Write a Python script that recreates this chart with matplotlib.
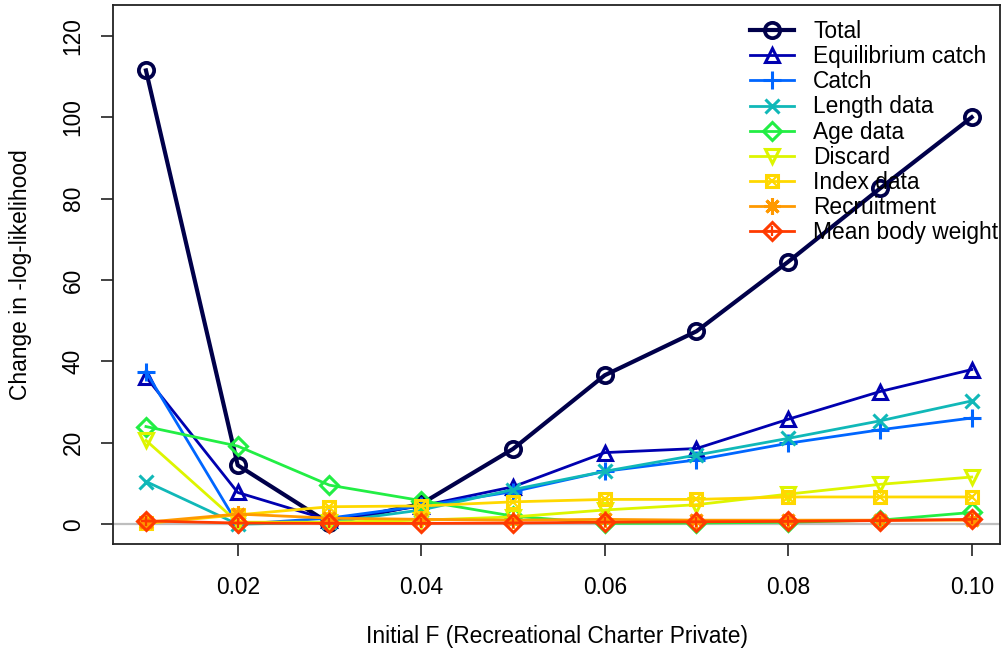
import matplotlib
matplotlib.use("Agg")
import matplotlib.pyplot as plt

plt.rcParams['font.family'] = ['Liberation Sans', 'DejaVu Sans']

x_vals = [0.01, 0.02, 0.03, 0.04, 0.05, 0.06, 0.07, 0.08, 0.09, 0.10]

total = [111.5, 14.5, 0.2, 5.0, 18.5, 36.6, 47.4, 64.5, 82.5, 100.0]
equil_catch = [36.2, 7.8, 1.0, 4.5, 9.2, 17.6, 18.6, 25.8, 32.6, 38.0]
catch = [37.5, 0.0, 1.5, 4.5, 8.0, 13.0, 15.8, 19.9, 23.2, 26.1]
length_data = [10.5, 0.0, 0.5, 3.5, 8.5, 13.0, 17.0, 21.1, 25.4, 30.3]
age_data = [24.0, 19.2, 9.6, 5.8, 2.0, 0.2, 0.3, 0.5, 1.0, 2.9]
discard = [20.6, 0.5, 0.5, 1.0, 1.8, 3.5, 4.8, 7.4, 9.8, 11.6]
index_data = [0.2, 2.3, 4.3, 4.5, 5.5, 6.1, 6.1, 6.7, 6.7, 6.7]
recruitment = [0.5, 2.5, 1.5, 1.2, 1.0, 1.2, 1.0, 1.0, 1.0, 1.0]
mean_body_wt = [0.8, 0.3, 0.2, 0.2, 0.3, 0.5, 0.6, 0.7, 0.9, 1.2]

series_labels = ["Total", "Equilibrium catch", "Catch", "Length data", "Age data",
                 "Discard", "Index data", "Recruitment", "Mean body weight"]
series_values = [total, equil_catch, catch, length_data, age_data,
                 discard, index_data, recruitment, mean_body_wt]
colors = ["#00004A", "#0000B0", "#0066FF", "#10B8B8", "#22EE44",
          "#DDF500", "#FFD800", "#FF9900", "#FF3A00"]
# marker, overlay marker
markers = [("o", None), ("^", None), ("+", None), ("x", None), ("D", None),
           ("v", None), ("s", "x"), ((8, 2, 0), None), ("D", "+")]
msizes = [11, 10, 13, 10, 9, 10, 9, 12, 9]

x_ticks = [0.02, 0.04, 0.06, 0.08, 0.10]
x_ticklabels = ["0.02", "0.04", "0.06", "0.08", "0.10"]
y_ticks = [0, 20, 40, 60, 80, 100, 120]

fig = plt.figure(figsize=(10.05, 6.49), dpi=100)
ax = fig.add_axes([113.3 / 1005, 1 - 544.3 / 649, (1000 - 113.3) / 1005, (544.3 - 4.5) / 649])

ax.axhline(0, color="#BEBEBE", lw=1.6, zorder=1)

handles = []
for i, (lab, vals, col, (m, m2), ms) in enumerate(zip(series_labels, series_values, colors, markers, msizes)):
    lw = 3.0 if i == 0 else 2.0
    mew = 2.7 if i == 0 else 2.2
    h, = ax.plot(x_vals, vals, color=col, lw=lw, marker=m, ms=ms, mew=mew,
                 mfc="none", mec=col, zorder=2 + i)
    if m2 is not None:
        h2, = ax.plot(x_vals, vals, color=col, lw=0, marker=m2, ms=ms * 0.8, mew=1.6,
                      mec=col, zorder=2 + i)
        handles.append((h, h2))
    else:
        handles.append(h)

ax.set_xlim(0.00644, 0.10308)
ax.set_ylim(-4.93, 127.7)
ax.set_xticks(x_ticks)
ax.set_xticklabels(x_ticklabels)
ax.set_yticks(y_ticks)
ax.tick_params(axis="both", direction="out", length=8.6, width=1.2, labelsize=16.4, color="#222222")
ax.tick_params(axis="x", pad=14)
ax.tick_params(axis="y", pad=12)
for lbl in ax.get_yticklabels():
    lbl.set_rotation(90)
    lbl.set_va("center")
for s in ax.spines.values():
    s.set_linewidth(1.3)
    s.set_color("#222222")

ax.set_xlabel("Initial F (Recreational Charter Private)", fontsize=16.4, labelpad=19)
ax.set_ylabel("Change in -log-likelihood", fontsize=16.4, labelpad=21.5)

leg = ax.legend(handles, series_labels, loc="upper left",
                bbox_to_anchor=(750 / 1005, 1 - 20 / 649), bbox_transform=fig.transFigure,
                frameon=False, fontsize=16.4, handlelength=1.95, handletextpad=0.82,
                labelspacing=0.095, borderaxespad=0, borderpad=0)

fig.savefig("out.png", dpi=100)
